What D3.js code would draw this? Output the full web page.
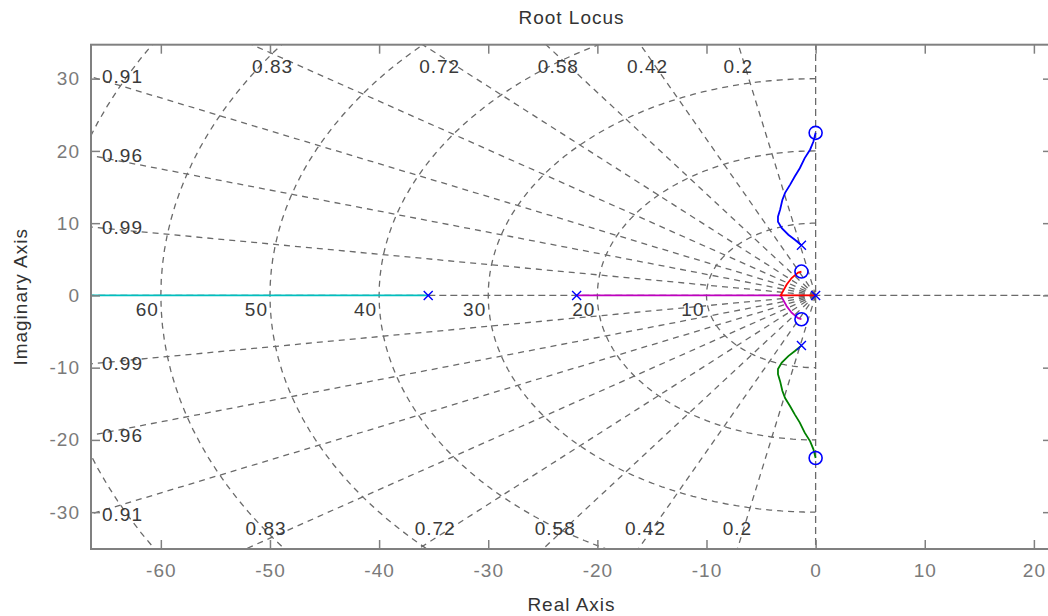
<html>
    <meta charset = "utf-8">
    <style>
    body {
      margin: 0;
      background: #ffffff;
    }
    text {
      font-family: "Liberation Sans", Arial, sans-serif;
    }
    </style>

    <body>
        <script src="https://d3js.org/d3.v7.min.js"></script>
        <script>

            // tick values of the axes
            var xTicks = [-60, -50, -40, -30, -20, -10, 0, 10, 20];
            var yTicks = [-30, -20, -10, 0, 10, 20, 30];

            // sgrid: damping ratio rays and natural frequency circles
            var dampingRatios = [0.2, 0.42, 0.58, 0.72, 0.83, 0.91, 0.96, 0.99];
            var natFreqs = [10, 20, 30, 40, 50, 60, 70];

            // open loop poles and zeros (real, imag)
            var poles = [[0, 0], [-21.9, 0], [-35.5, 0], [-1.3, 6.95], [-1.3, -6.95]];
            var zeros = [[-1.3, 3.3], [-1.3, -3.3], [0, 22.5], [0, -22.5]];

            // locus branches
            var blueBranch = [[-1.3, 6.95], [-1.9, 7.7], [-2.5, 8.4], [-3.1, 9.3], [-3.45, 10.2], [-3.45, 10.9],
                              [-3.25, 11.9], [-3.05, 13.2], [-2.8, 14.2], [-2.35, 15.3], [-1.9, 16.5],
                              [-1.45, 17.6], [-1.0, 19.0], [-0.5, 20.2], [-0.2, 21.3], [0, 22.5]];
            var greenBranch = [[-1.3, -6.95], [-1.9, -7.7], [-2.5, -8.4], [-3.1, -9.3], [-3.45, -10.2], [-3.45, -10.9],
                               [-3.25, -11.9], [-3.05, -13.2], [-2.8, -14.2], [-2.35, -15.3], [-1.9, -16.5],
                               [-1.45, -17.6], [-1.0, -19.0], [-0.5, -20.2], [-0.2, -21.3], [0, -22.5]];
            var redBranch = [[0, 0], [-3.2, 0], [-2.65, 1.5], [-2.2, 2.4], [-1.6, 3.15], [-1.3, 3.3]];
            var magentaBranch = [[-21.9, 0], [-3.2, 0], [-2.65, -1.5], [-2.2, -2.4], [-1.6, -3.15], [-1.3, -3.3]];
            var cyanBranch = [[-35.5, 0], [-80, 0]];

            var branches = [
                {pts: cyanBranch, color: "#00bfbf"},
                {pts: magentaBranch, color: "#bf00bf"},
                {pts: redBranch, color: "#ff0000"},
                {pts: greenBranch, color: "#008000"},
                {pts: blueBranch, color: "#0000ff"}
            ];

            // canvas (plot box edges in pixels)
            var W = 1048, H = 616;
            var pLeft = 91, pRight = 1052, pTop = 44.7, pBottom = 549;
            var xMin = -66.4, xMax = 21.66, yMin = -35.1, yMax = 34.7;

            var xScale = d3.scaleLinear().domain([xMin, xMax]).range([pLeft, pRight]);
            var yScale = d3.scaleLinear().domain([yMin, yMax]).range([pBottom, pTop]);

            var svg = d3.select("body").append("svg")
                .attr("width", W)
                .attr("height", H);

            svg.append("clipPath").attr("id", "plotclip")
              .append("rect")
              .attr("x", pLeft).attr("y", pTop)
              .attr("width", pRight - pLeft).attr("height", pBottom - pTop);

            var grid = svg.append("g").attr("clip-path", "url(#plotclip)");
            var gridColor = "#6a6a6a";

            var line = d3.line()
                .x(function(d) { return xScale(d[0]); })
                .y(function(d) { return yScale(d[1]); });

            // real and imaginary axis
            grid.append("path")
              .attr("d", line([[-100, 0], [100, 0]]))
              .attr("fill", "none").attr("stroke", gridColor)
              .attr("stroke-width", 1.3).attr("stroke-dasharray", "7,4");
            grid.append("path")
              .attr("d", line([[0, -100], [0, 100]]))
              .attr("fill", "none").attr("stroke", gridColor)
              .attr("stroke-width", 1.3).attr("stroke-dasharray", "7,4");

            // damping rays
            dampingRatios.forEach(function(z) {
                var s = Math.sqrt(1 - z * z);
                [1, -1].forEach(function(sign) {
                    grid.append("path")
                      .attr("d", line([[0, 0], [-100 * z, sign * 100 * s]]))
                      .attr("fill", "none").attr("stroke", gridColor)
                      .attr("stroke-width", 1.3).attr("stroke-dasharray", "6,5");
                });
            });

            // natural frequency semicircles
            natFreqs.forEach(function(wn) {
                var pts = d3.range(0, 181, 2).map(function(a) {
                    var t = (90 + a) * Math.PI / 180;
                    return [wn * Math.cos(t), wn * Math.sin(t)];
                });
                grid.append("path")
                  .attr("d", line(pts))
                  .attr("fill", "none").attr("stroke", gridColor)
                  .attr("stroke-width", 1.3).attr("stroke-dasharray", "6,5");
            });

            // locus branches
            var locus = svg.append("g").attr("clip-path", "url(#plotclip)");
            branches.forEach(function(b) {
                locus.append("path")
                  .attr("d", line(b.pts))
                  .attr("fill", "none")
                  .attr("stroke", b.color)
                  .attr("stroke-width", 1.8);
            });

            // zeros as circles, poles as crosses
            locus.selectAll("circle.zero")
              .data(zeros).enter()
              .append("circle")
              .attr("cx", function(d) { return xScale(d[0]); })
              .attr("cy", function(d) { return yScale(d[1]); })
              .attr("r", 6.5)
              .attr("fill", "none")
              .attr("stroke", "#0000ff")
              .attr("stroke-width", 1.6);

            locus.selectAll("path.pole")
              .data(poles).enter()
              .append("path")
              .attr("d", function(d) {
                  var cx = xScale(d[0]), cy = yScale(d[1]), k = 4.5;
                  return "M" + (cx - k) + "," + (cy - k) + "L" + (cx + k) + "," + (cy + k) +
                         "M" + (cx - k) + "," + (cy + k) + "L" + (cx + k) + "," + (cy - k);
              })
              .attr("stroke", "#0000ff")
              .attr("stroke-width", 1.4);

            // grid labels
            var labelColor = "#3a3a3a";
            var labels = svg.append("g")
                .style("font-size", "19px")
                .style("letter-spacing", "1px")
                .attr("fill", labelColor);

            natFreqs.forEach(function(wn) {
                if (-wn < xMin) return;
                labels.append("text")
                  .attr("x", xScale(-wn) - 2)
                  .attr("y", yScale(0) + 21)
                  .attr("text-anchor", "end")
                  .text(String(wn));
            });

            dampingRatios.forEach(function(z) {
                var tanT = Math.sqrt(1 - z * z) / z;
                var txt = String(z);
                if (-xMin * tanT <= yMax) {
                    // ray leaves through the left edge
                    [1, -1].forEach(function(sign) {
                        labels.append("text")
                          .attr("x", pLeft + 11)
                          .attr("y", yScale(sign * -xMin * tanT))
                          .attr("dy", "0.35em")
                          .text(txt);
                    });
                } else {
                    var f = Math.max(0, Math.min(1, (z - 0.2) / 0.63));
                    [[yMax, pTop + 28.5], [yMin, pBottom - 14]].forEach(function(e) {
                        var cx = xScale(-Math.abs(e[0]) / tanT);
                        var t = labels.append("text")
                          .attr("y", e[1])
                          .text(txt);
                        var w = t.node().getComputedTextLength();
                        t.attr("x", cx - (1 - f) * w / 2);
                    });
                }
            });

            // axes with inward ticks
            var axisColor = "#808080";
            var tickColor = "#7a7a7a";

            var xAxis = d3.axisBottom(xScale).tickValues(xTicks).tickSizeInner(-9).tickSizeOuter(0).tickPadding(14.5)
                .tickFormat(function(d) { return String(d); });
            var xAxisTop = d3.axisTop(xScale).tickValues(xTicks).tickSizeInner(-9).tickSizeOuter(0).tickFormat("");
            var yAxis = d3.axisLeft(yScale).tickValues(yTicks).tickSizeInner(-9).tickSizeOuter(0).tickPadding(11)
                .tickFormat(function(d) { return String(d); });
            var yAxisRight = d3.axisRight(yScale).tickValues(yTicks).tickSizeInner(-9).tickSizeOuter(0).tickFormat("");

            function styleAxis(g) {
                g.select(".domain").remove();
                g.selectAll(".tick line").attr("stroke", axisColor).attr("stroke-width", 1.5);
                g.selectAll(".tick text")
                  .attr("fill", tickColor)
                  .style("font-family", "'Liberation Sans', Arial, sans-serif")
                  .style("font-size", "19px")
                  .style("letter-spacing", "1px");
            }

            svg.append("g").attr("transform", "translate(0," + pBottom + ")").call(xAxis).call(styleAxis);
            svg.append("g").attr("transform", "translate(0," + pTop + ")").call(xAxisTop).call(styleAxis);
            svg.append("g").attr("transform", "translate(" + pLeft + ",0)").call(yAxis).call(styleAxis);
            svg.append("g").attr("transform", "translate(" + pRight + ",0)").call(yAxisRight).call(styleAxis);

            // box
            svg.append("rect")
              .attr("x", pLeft).attr("y", pTop)
              .attr("width", pRight - pLeft).attr("height", pBottom - pTop)
              .attr("fill", "none")
              .attr("stroke", axisColor)
              .attr("stroke-width", 2);

            // title and axis labels
            var textColor = "#333333";
            svg.append("text")
              .attr("x", (pLeft + pRight) / 2)
              .attr("y", 24)
              .attr("text-anchor", "middle")
              .attr("fill", textColor)
              .style("font-size", "19px")
              .style("letter-spacing", "1px")
              .text("Root Locus");

            svg.append("text")
              .attr("x", (pLeft + pRight) / 2)
              .attr("y", 611)
              .attr("text-anchor", "middle")
              .attr("fill", textColor)
              .style("font-size", "19px")
              .style("letter-spacing", "1px")
              .text("Real Axis");

            svg.append("text")
              .attr("transform", "translate(27," + ((pTop + pBottom) / 2) + ") rotate(-90)")
              .attr("text-anchor", "middle")
              .attr("fill", textColor)
              .style("font-size", "19px")
              .style("letter-spacing", "1px")
              .text("Imaginary Axis");
        </script>
    </body>
</html>
